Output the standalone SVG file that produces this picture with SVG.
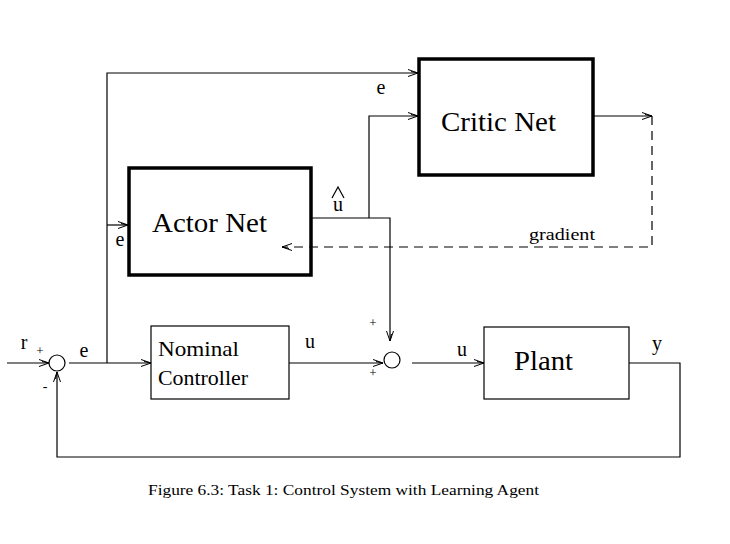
<svg xmlns="http://www.w3.org/2000/svg" width="730" height="544" viewBox="0 0 730 544">
<defs>
<marker id="arr" viewBox="0 0 10 8" refX="10" refY="4" markerWidth="10" markerHeight="8" markerUnits="userSpaceOnUse" orient="auto">
<path d="M0,0.5 L10,4 L0,7.5 M3,2.5 L10,4" fill="none" stroke="#000" stroke-width="1"/>
</marker>
<style>
.ln{fill:none;stroke:#000;stroke-width:1.2}
.dash{fill:none;stroke:#000;stroke-width:1.2;stroke-dasharray:9,6}
.thick{fill:none;stroke:#000;stroke-width:3.5}
.thin{fill:none;stroke:#000;stroke-width:1.2}
.t{font-family:"Liberation Serif","Times New Roman",serif;fill:#000}
</style>
</defs>
<rect width="730" height="544" fill="#fff"/>
<g id="connectors">
<path class="ln" d="M7,363 H49" marker-end="url(#arr)"/>
<path class="ln" d="M69,363 H151" marker-end="url(#arr)"/>
<path class="ln" d="M107,363 V73 H418" marker-end="url(#arr)"/>
<path class="ln" d="M107,225 H128" marker-end="url(#arr)"/>
<path class="ln" d="M311,218 H390 V341" marker-end="url(#arr)"/>
<path class="ln" d="M369,218 V116 H418" marker-end="url(#arr)"/>
<path class="ln" d="M593,116 H652" marker-end="url(#arr)"/>
<path class="dash" d="M652,116 V247 H282" marker-end="url(#arr)"/>
<path class="ln" d="M289,363 H383" marker-end="url(#arr)"/>
<path class="ln" d="M412,363 H484" marker-end="url(#arr)"/>
<path class="ln" d="M629,363 H680 V457 H57 V372" marker-end="url(#arr)"/>
</g>
<g id="sum1"><circle cx="57" cy="363" r="8" class="thin"/></g>
<g id="sum2"><circle cx="392" cy="360" r="8" class="thin"/></g>
<g id="critic">
<rect x="419" y="59" width="174" height="116" class="thick"/>
<text class="t" x="441" y="131" font-size="27" textLength="115" lengthAdjust="spacingAndGlyphs">Critic Net</text>
</g>
<g id="actor">
<rect x="129" y="168" width="182" height="107" class="thick"/>
<text class="t" x="152" y="232" font-size="27" textLength="115" lengthAdjust="spacingAndGlyphs">Actor Net</text>
</g>
<g id="nominal">
<rect x="151" y="326" width="138" height="73" class="thin"/>
<text class="t" x="158" y="356" font-size="21" textLength="81" lengthAdjust="spacingAndGlyphs">Nominal</text>
<text class="t" x="158" y="385" font-size="21" textLength="90" lengthAdjust="spacingAndGlyphs">Controller</text>
</g>
<g id="plant">
<rect x="484" y="327" width="145" height="72" class="thin"/>
<text class="t" x="514" y="370" font-size="27" textLength="59" lengthAdjust="spacingAndGlyphs">Plant</text>
</g>
<g id="labels">
<text class="t" x="24" y="349" font-size="20" text-anchor="middle">r</text>
<text class="t" x="40" y="355" font-size="13" text-anchor="middle">+</text>
<text class="t" x="84" y="357" font-size="20" text-anchor="middle">e</text>
<text class="t" x="45" y="391" font-size="14" text-anchor="middle">-</text>
<text class="t" x="120" y="246" font-size="20" text-anchor="middle">e</text>
<text class="t" x="381" y="94" font-size="20" text-anchor="middle">e</text>
<text class="t" x="338" y="211" font-size="20" text-anchor="middle">u</text>
<path class="ln" d="M332,198 L338,187 L344,198"/>
<text class="t" x="529" y="240" font-size="17" textLength="66" lengthAdjust="spacingAndGlyphs">gradient</text>
<text class="t" x="373" y="327" font-size="13" text-anchor="middle">+</text>
<text class="t" x="373" y="377" font-size="13" text-anchor="middle">+</text>
<text class="t" x="310" y="348" font-size="20" text-anchor="middle">u</text>
<text class="t" x="462" y="356" font-size="20" text-anchor="middle">u</text>
<text class="t" x="657" y="350" font-size="20" text-anchor="middle">y</text>
<text class="t" x="148" y="495" font-size="15" textLength="391" lengthAdjust="spacingAndGlyphs">Figure 6.3: Task 1: Control System with Learning Agent</text>
</g>
</svg>
